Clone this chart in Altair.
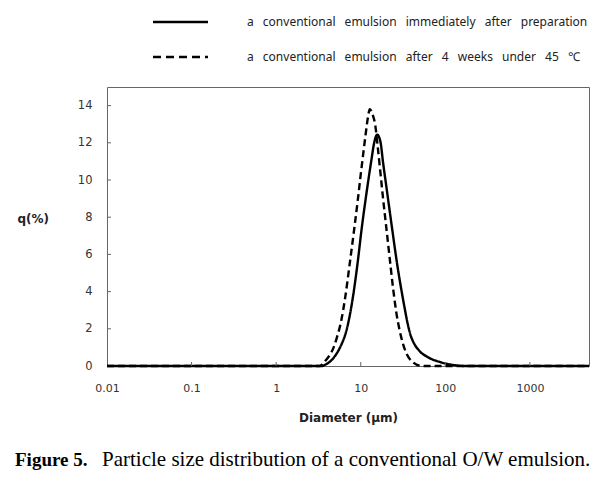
import altair as alt
import pandas as pd

# ---- data ----
fresh_d = [0.01, 3.2, 3.44, 3.86, 4.31, 4.80, 5.40, 5.97, 6.47, 7.41, 8.27, 9.22, 10.27, 11.7,
           13.4, 14.35, 15.7, 16.5, 17.2, 18.3, 20.3, 23.4, 26.8, 30.9, 33.1, 36.2, 38.9, 42.3,
           49.7, 62.4, 85.7, 123, 169, 5000]
fresh_q = [0, 0, 0, 0.08, 0.23, 0.45, 0.8, 1.2, 1.6, 2.7, 4.0, 5.6, 7.4, 9.3,
           11.1, 11.95, 12.44, 12.3, 12.0, 11.0, 9.5, 7.45, 5.55, 3.85, 3.1, 2.2, 1.65, 1.25,
           0.8, 0.47, 0.22, 0.06, 0, 0]

aged_d = [0.01, 3.1, 3.28, 3.59, 3.91, 4.31, 4.73, 5.16, 5.92, 6.56, 7.41, 8.34, 9.22, 10.0,
          10.7, 11.46, 12.1, 12.8, 13.86, 14.9, 15.87, 17.0, 18.18, 19.88, 22.0, 24.1, 26.4,
          28.9, 31.8, 34.9, 41.4, 49.7, 57.0, 5000]
aged_q = [0, 0, 0, 0.14, 0.33, 0.59, 0.95, 1.45, 2.5, 3.7, 5.5, 7.3, 8.9, 10.3,
          11.4, 12.5, 13.3, 13.8, 13.5, 12.9, 11.8, 10.5, 9.2, 7.6, 5.8, 4.2, 2.85,
          1.9, 1.15, 0.65, 0.2, 0.02, 0, 0]

series = ["a conventional emulsion immediately after preparation",
          "a conventional emulsion after 4 weeks under 45 \u2103"]

x_ticks = [0.01, 0.1, 1, 10, 100, 1000]
y_ticks = [0, 2, 4, 6, 8, 10, 12, 14]

caption_bold = "Figure 5."
caption_text = "Particle size distribution of a conventional O/W emulsion."

df = pd.concat([
    pd.DataFrame({"d": fresh_d, "q": fresh_q, "s": series[0]}),
    pd.DataFrame({"d": aged_d, "q": aged_q, "s": series[1]}),
])

W, H = 482, 279
FONT = "DejaVu Sans"
LFONT = "Noto Sans"

xscale = alt.Scale(type="log", domain=[0.01, 5000], nice=False)
yscale = alt.Scale(domain=[0, 15], nice=False)

xaxis = alt.Axis(values=x_ticks, format="~g", ticks=False, domain=False, grid=False,
                 labelFlush=False, labelOverlap=False,
                 labelPadding=16, labelFontSize=11, labelFont=FONT, labelColor="#333",
                 title="Diameter  (\u00b5m)", titleFont=FONT, titleFontSize=12,
                 titleFontWeight="bold", titleColor="#222", titleY=51,
                 titleBaseline="middle")
yaxis = alt.Axis(values=y_ticks, ticks=False, domain=False, grid=False,
                 labelOverlap=False, labelFlush=False,
                 labelPadding=15, labelFontSize=11.5, labelFont=FONT, labelColor="#333",
                 title="q(%)", titleAngle=0, titleAlign="left", titleX=-90, titleY=131,
                 titleBaseline="middle", titleFont=FONT, titleFontSize=12,
                 titleFontWeight="bold", titleColor="#222")

lines = alt.Chart(df).mark_line(color="black", strokeWidth=2.4, interpolate="monotone").encode(
    x=alt.X("d:Q", scale=xscale, axis=xaxis),
    y=alt.Y("q:Q", scale=yscale, axis=yaxis),
    strokeDash=alt.StrokeDash("s:N", scale=alt.Scale(domain=series, range=[[1, 0], [7, 4]]),
                              legend=None),
)

# inward tick marks
xt = alt.Chart(pd.DataFrame({"d": x_ticks[1:]})).mark_rule(color="#666", strokeWidth=1).encode(
    x=alt.X("d:Q", scale=xscale, axis=xaxis), y=alt.value(H), y2=alt.value(H - 4))
yt = alt.Chart(pd.DataFrame({"q": y_ticks[1:]})).mark_rule(color="#666", strokeWidth=1).encode(
    y=alt.Y("q:Q", scale=yscale, axis=yaxis), x=alt.value(0), x2=alt.value(4))

# legend
one = pd.DataFrame({"a": [0]})
leg = []
for i, (lab, dash) in enumerate(zip(series, [[1, 0], [8, 5]])):
    yy = -65 + 35 * i
    leg.append(alt.Chart(one).mark_rule(color="black", strokeWidth=2.6, strokeDash=dash).encode(
        x=alt.value(46), x2=alt.value(101), y=alt.value(yy)))
    leg.append(alt.Chart(one).mark_text(text=lab.replace(" ", "\u2002 "), font=LFONT,
                                        fontSize=12, color="#222",
                                        align="left", baseline="middle").encode(
        x=alt.value(140), y=alt.value(yy)))

cap1 = alt.Chart(one).mark_text(text=caption_bold, font="Liberation Serif", fontSize=19,
                                fontWeight="bold", color="black", align="left",
                                baseline="alphabetic").encode(x=alt.value(-92), y=alt.value(379))
cap2 = alt.Chart(one).mark_text(text=caption_text, font="Liberation Serif", fontSize=21,
                                color="black", align="left",
                                baseline="alphabetic").encode(x=alt.value(-5), y=alt.value(379))

chart = alt.layer(lines, xt, yt, *leg, cap1, cap2).properties(
    width=W, height=H,
    autosize=alt.AutoSizeParams(type="none"),
    padding={"left": 99, "top": 79, "right": 14, "bottom": 110},
).configure_view(stroke="#666", strokeWidth=1)

chart.save("out.html", embed_options={"renderer": "svg", "actions": False})
